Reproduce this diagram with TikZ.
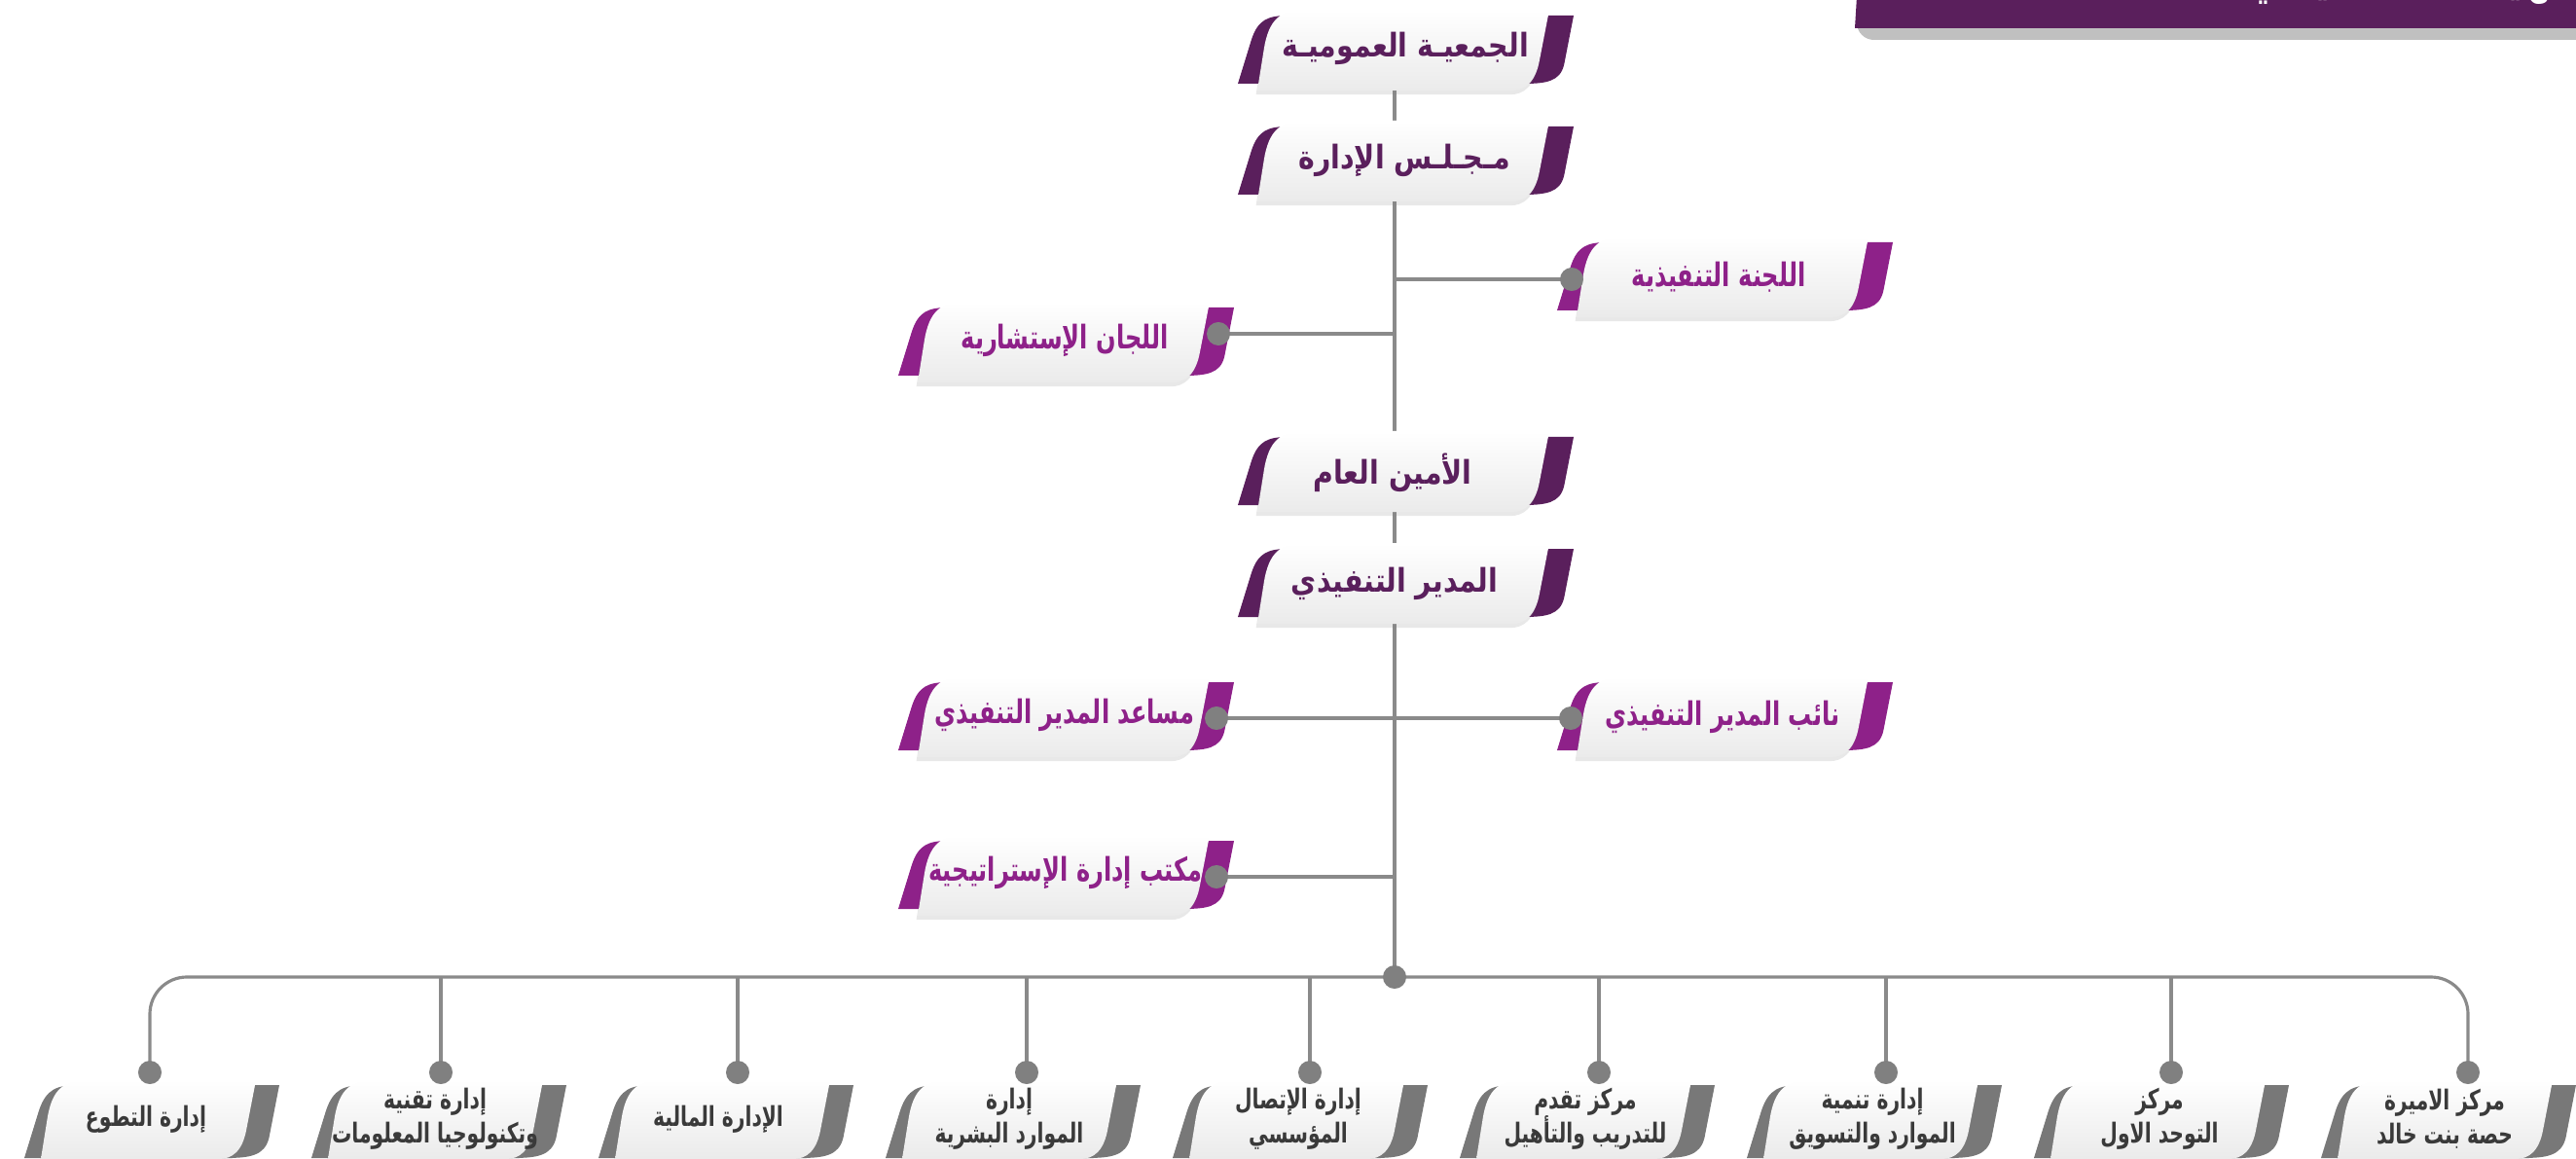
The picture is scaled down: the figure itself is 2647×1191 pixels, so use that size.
\documentclass[tikz,border=0pt]{standalone}
\usepackage{fontspec}
\TeXXeTstate=1
\newfontfamily\arabicfont[Script=Arabic,FakeStretch=0.85]{DejaVu Sans}
\newfontfamily\narrowfont[Script=Arabic,FakeStretch=0.72]{DejaVu Sans}
\usetikzlibrary{shadows}
\definecolor{plumdark}{HTML}{5A1F5C}
\definecolor{plumlight}{HTML}{8E2189}
\definecolor{tabgray}{HTML}{787878}
\definecolor{wiregray}{HTML}{8A8A8A}
\definecolor{dotgray}{HTML}{808080}
\definecolor{inkgray}{HTML}{3A3A3A}
\definecolor{bannergray}{HTML}{C0C0C0}
\pgfdeclarelayer{wires}
\pgfsetlayers{wires,main}
\tikzset{%
	wire/.style={draw=wiregray,line width=0.9pt},
	dot/.style={circle,fill=dotgray,inner sep=0pt,minimum size=0.24cm},
	face/.style={top color=white,bottom color=gray!16,drop shadow={opacity=0.18,shadow xshift=-0.4pt,shadow yshift=-1.2pt}},
	toptext/.style={font=\arabicfont\bfseries\fontsize{9.5}{11}\selectfont,text=plumdark},
	sidetext/.style={font=\narrowfont\bfseries\fontsize{9.5}{11}\selectfont,text=plumlight},
	bottext/.style={font=\narrowfont\bfseries\fontsize{8}{10}\selectfont,text=inkgray,align=center},
}
% back part of a tab: colour, left, top, right, bottom
\newcommand{\backface}[5]{%
	\fill[#1] ({#2},{#5}) -- ({(#2)+0.2*((#5)-(#3))},{(#3)+0.35*((#5)-(#3))}) .. controls ({(#2)+0.3*((#5)-(#3))},{(#3)+0.05*((#5)-(#3))}) and ({(#2)+0.45*((#5)-(#3))},{#3}) .. ({(#2)+0.75*((#5)-(#3))},{#3})
		-- ({#4},{#3}) -- ({(#4)-0.14*((#5)-(#3))},{(#3)+0.72*((#5)-(#3))}) .. controls ({(#4)-0.2*((#5)-(#3))},{(#3)+0.97*((#5)-(#3))}) and ({(#4)-0.4*((#5)-(#3))},{#5}) .. ({(#4)-0.75*((#5)-(#3))},{#5}) -- cycle;}
% white front of a tab: left, top, right, bottom
\newcommand{\frontface}[4]{%
	\path[face] ({#1},{#4}) -- ({(#1)+0.08*((#4)-(#2))},{(#2)+0.5*((#4)-(#2))}) .. controls ({(#1)+0.14*((#4)-(#2))},{(#2)+0.1*((#4)-(#2))}) and ({(#1)+0.3*((#4)-(#2))},{#2}) .. ({(#1)+0.6*((#4)-(#2))},{#2})
		-- ({#3},{#2}) -- ({(#3)-0.12*((#4)-(#2))},{(#2)+0.62*((#4)-(#2))}) .. controls ({(#3)-0.17*((#4)-(#2))},{(#2)+0.9*((#4)-(#2))}) and ({(#3)-0.3*((#4)-(#2))},{#4}) .. ({(#3)-0.47*((#4)-(#2))},{#4}) -- cycle;}
\newcommand{\bigtab}[3]{\backface{#3}{#1-20}{#2+6}{#1+325}{#2+76}\frontface{#1}{#2}{#1+300}{#2+83}}
\newcommand{\smalltab}[1]{\backface{tabgray}{#1-127}{1115}{#1+135}{1190}\frontface{#1-110}{1110}{#1+111}{1191}}

\begin{document}
\begin{tikzpicture}[x=0.01cm,y=-0.01cm]
	\useasboundingbox (0,0) rectangle (2647,1191);
	
	%BANNER
	\fill[bannergray,rounded corners=5pt] (1908,-20) rectangle (2720,41);
	\fill[plumdark] (1909,-20) -- (2700,-20) -- (2700,29) -- (1906,29) -- cycle;
	\node[font=\arabicfont\bfseries\fontsize{14}{16}\selectfont,text=white,anchor=base] (banner) at (2480,-7) {\beginR الهيكل التنظيمي\endR};
	
	%UPPER TABS
	\bigtab{1292}{10}{plumdark}
	\bigtab{1292}{124}{plumdark}
	\bigtab{1292}{443}{plumdark}
	\bigtab{1292}{558}{plumdark}
	\bigtab{1620}{243}{plumlight}
	\bigtab{1620}{695}{plumlight}
	\bigtab{943}{310}{plumlight}
	\bigtab{943}{695}{plumlight}
	\bigtab{943}{858}{plumlight}
	
	\node[toptext] (assembly) at (1444,50) {\beginR الجمعيـة العموميـة\endR};
	\node[toptext] (board) at (1443,165) {\beginR مـجـلـس الإدارة\endR};
	\node[toptext] (secgen) at (1431,486) {\beginR الأمين العام\endR};
	\node[toptext] (execdir) at (1433,600) {\beginR المدير التنفيذي\endR};
	\node[sidetext] (execcomm) at (1766,285) {\beginR اللجنة التنفيذية\endR};
	\node[sidetext] (deputy) at (1770,737) {\beginR نائب المدير التنفيذي\endR};
	\node[sidetext] (advcomm) at (1094,350) {\beginR اللجان الإستشارية\endR};
	\node[sidetext] (assistant) at (1094,735) {\beginR مساعد المدير التنفيذي\endR};
	\node[sidetext] (strategy) at (1095,897) {\beginR مكتب إدارة الإستراتيجية\endR};
	
	%LOWER TABS
	\smalltab{152}
	\smalltab{447}
	\smalltab{742}
	\smalltab{1037}
	\smalltab{1332}
	\smalltab{1627}
	\smalltab{1922}
	\smalltab{2217}
	\smalltab{2512}
	
	\node[bottext] (volunteer) at (150,1150) {\beginR إدارة التطوع\endR};
	\node[bottext] (infotech) at (447,1150) {\beginR إدارة تقنية\endR\\\beginR وتكنولوجيا المعلومات\endR};
	\node[bottext] (finance) at (738,1150) {\beginR الإدارة المالية\endR};
	\node[bottext] (people) at (1037,1150) {\beginR إدارة\endR\\\beginR الموارد البشرية\endR};
	\node[bottext] (comms) at (1334,1150) {\beginR إدارة الإتصال\endR\\\beginR المؤسسي\endR};
	\node[bottext] (training) at (1629,1150) {\beginR مركز تقدم\endR\\\beginR للتدريب والتأهيل\endR};
	\node[bottext] (marketing) at (1924,1150) {\beginR إدارة تنمية\endR\\\beginR الموارد والتسويق\endR};
	\node[bottext] (autism) at (2219,1150) {\beginR مركز\endR\\\beginR التوحد الاول\endR};
	\node[bottext] (princess) at (2512,1150) {\beginR مركز الاميرة\endR\\\beginR حصة بنت خالد\endR};
	
	%DOTS
	\node[dot] (dotexec) at (1615,287) {};
	\node[dot] (dotdeputy) at (1614,738) {};
	\node[dot] (dotadv) at (1252,343) {};
	\node[dot] (dotassist) at (1250,738) {};
	\node[dot] (dotstrat) at (1250,901) {};
	\node[dot] (hub) at (1433,1004) {};
	\node[dot] (dvolunteer) at (154,1102) {};
	\node[dot] (dinfotech) at (453,1102) {};
	\node[dot] (dfinance) at (758,1102) {};
	\node[dot] (dpeople) at (1055,1102) {};
	\node[dot] (dcomms) at (1346,1102) {};
	\node[dot] (dtraining) at (1643,1102) {};
	\node[dot] (dmarketing) at (1938,1102) {};
	\node[dot] (dautism) at (2231,1102) {};
	\node[dot] (dprincess) at (2536,1102) {};
	
	%LINES
	\begin{pgfonlayer}{wires}
		\draw[wire] (hub.center) -- (hub |- assembly);
		\draw[wire] (dotexec.center) -- (dotexec -| hub);
		\draw[wire] (dotadv.center) -- (dotadv -| hub);
		\draw[wire] (dotdeputy.center) -- (dotassist.center);
		\draw[wire] (dotstrat.center) -- (dotstrat -| hub);
		\draw[wire,rounded corners=0.38cm] (dvolunteer.center) |- (hub.center) -| (dprincess.center);
		\draw[wire] (dinfotech.center) -- (dinfotech |- hub);
		\draw[wire] (dfinance.center) -- (dfinance |- hub);
		\draw[wire] (dpeople.center) -- (dpeople |- hub);
		\draw[wire] (dcomms.center) -- (dcomms |- hub);
		\draw[wire] (dtraining.center) -- (dtraining |- hub);
		\draw[wire] (dmarketing.center) -- (dmarketing |- hub);
		\draw[wire] (dautism.center) -- (dautism |- hub);
	\end{pgfonlayer}
\end{tikzpicture}
\end{document}
